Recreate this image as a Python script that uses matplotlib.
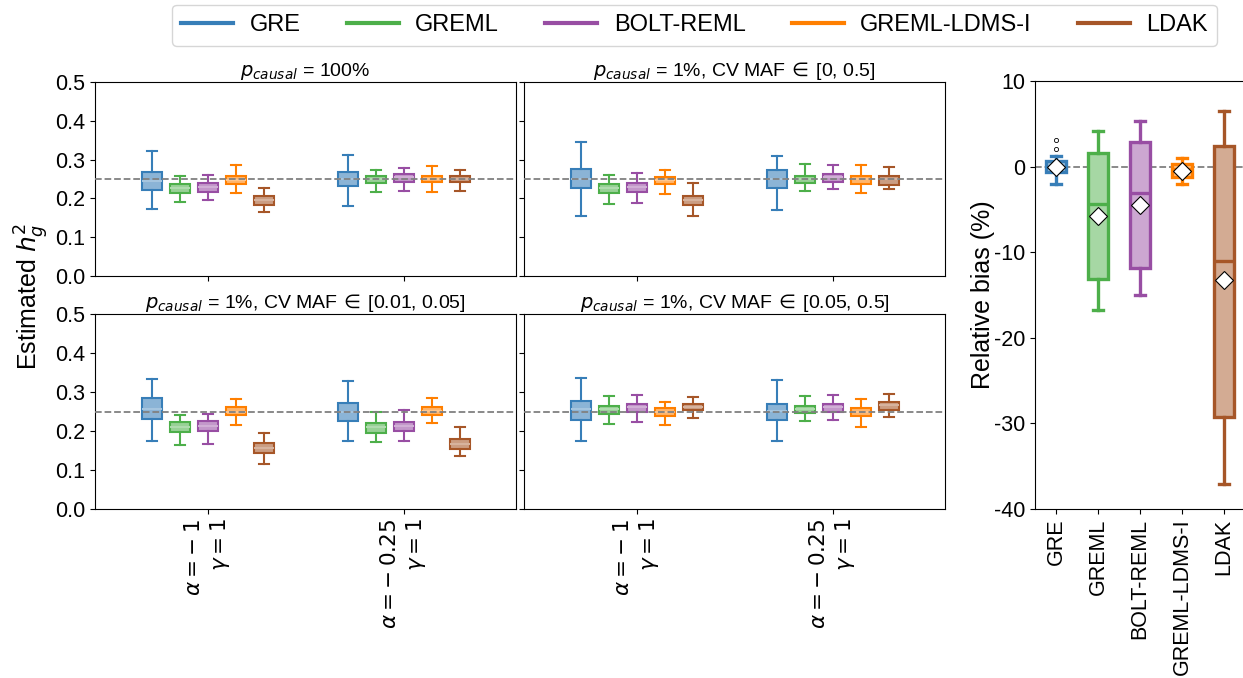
import matplotlib.pyplot as plt
from matplotlib.lines import Line2D
from matplotlib.colors import to_rgb

plt.rcParams['font.family'] = ['Liberation Sans', 'DejaVu Sans']
plt.rcParams['axes.unicode_minus'] = False

OUT_PNG = "out.png"

METHODS = ["GRE", "GREML", "BOLT-REML", "GREML-LDMS-I", "LDAK"]
COLORS = ["#377eb8", "#4daf4a", "#984ea3", "#ff7f00", "#a65628"]
GROUP_LABELS = [r"$\alpha=-\:1$" "\n" r"$\gamma=1$",
                r"$\alpha=-\:0.25$" "\n" r"$\gamma=1$"]
TRUE_H2 = 0.25

TITLES = [r"$p_{causal}$ = 100%",
          r"$p_{causal}$ = 1%, CV MAF$\,\in\,$[0, 0.5]",
          r"$p_{causal}$ = 1%, CV MAF$\,\in\,$[0.01, 0.05]",
          r"$p_{causal}$ = 1%, CV MAF$\,\in\,$[0.05, 0.5]"]

# (whislo, q1, median, q3, whishi) -> [group alpha=-1, group alpha=-0.25][method]
stats_p100 = [
    [(0.172, 0.221, 0.245, 0.268, 0.322), (0.191, 0.213, 0.227, 0.236, 0.258),
     (0.195, 0.217, 0.230, 0.240, 0.261), (0.214, 0.237, 0.247, 0.258, 0.286),
     (0.165, 0.184, 0.195, 0.207, 0.226)],
    [(0.180, 0.233, 0.251, 0.268, 0.312), (0.217, 0.240, 0.250, 0.257, 0.274),
     (0.220, 0.243, 0.254, 0.262, 0.278), (0.216, 0.241, 0.251, 0.259, 0.283),
     (0.220, 0.242, 0.251, 0.259, 0.274)],
]
stats_all_maf = [
    [(0.154, 0.226, 0.251, 0.276, 0.346), (0.185, 0.214, 0.226, 0.237, 0.261),
     (0.187, 0.216, 0.229, 0.240, 0.265), (0.212, 0.237, 0.247, 0.256, 0.272),
     (0.155, 0.184, 0.195, 0.207, 0.240)],
    [(0.171, 0.227, 0.251, 0.274, 0.310), (0.220, 0.239, 0.251, 0.258, 0.288),
     (0.223, 0.242, 0.254, 0.262, 0.285), (0.214, 0.237, 0.250, 0.258, 0.286),
     (0.223, 0.234, 0.250, 0.259, 0.280)],
]
stats_rare_maf = [
    [(0.174, 0.232, 0.256, 0.284, 0.334), (0.164, 0.197, 0.211, 0.223, 0.240),
     (0.167, 0.200, 0.214, 0.226, 0.244), (0.215, 0.240, 0.250, 0.261, 0.281),
     (0.115, 0.144, 0.156, 0.168, 0.196)],
    [(0.175, 0.226, 0.249, 0.272, 0.327), (0.171, 0.196, 0.210, 0.221, 0.250),
     (0.174, 0.199, 0.212, 0.224, 0.254), (0.220, 0.240, 0.251, 0.261, 0.284),
     (0.136, 0.154, 0.167, 0.179, 0.209)],
]
stats_common_maf = [
    [(0.174, 0.228, 0.256, 0.277, 0.337), (0.219, 0.244, 0.256, 0.265, 0.290),
     (0.222, 0.248, 0.261, 0.268, 0.293), (0.215, 0.238, 0.248, 0.258, 0.274),
     (0.233, 0.253, 0.262, 0.270, 0.287)],
    [(0.175, 0.228, 0.251, 0.270, 0.332), (0.226, 0.246, 0.256, 0.265, 0.289),
     (0.229, 0.250, 0.261, 0.268, 0.292), (0.210, 0.238, 0.250, 0.260, 0.282),
     (0.237, 0.254, 0.266, 0.274, 0.296)],
]
PANEL_STATS = [stats_p100, stats_all_maf, stats_rare_maf, stats_common_maf]

# relative bias (%) per method
bias_whislo = [-2.0, -16.7, -15.0, -2.0, -37.1]
bias_q1 = [-0.65, -13.1, -11.9, -1.24, -29.3]
bias_med = [0.0, -4.4, -3.1, -0.3, -11.0]
bias_q3 = [0.67, 1.56, 2.9, 0.28, 2.42]
bias_whishi = [1.25, 4.2, 5.35, 0.98, 6.55]
bias_mean = [0.0, -5.8, -4.5, -0.5, -13.2]
bias_fliers = [[2.0, 3.1], [], [], [], []]


def lighten(c, f):
    r, g, b = to_rgb(c)
    return (r + (1 - r) * f, g + (1 - g) * f, b + (1 - b) * f)


fig = plt.figure(figsize=(12.43, 6.78), dpi=100)
W, H = 1243.0, 678.0
TICK_FS = 15.5

# axes rectangles in pixels: (left, top, right, bottom)
rects = [(95, 82, 516, 276), (524, 82, 945, 276),
         (95, 314, 516, 509), (524, 314, 945, 509)]
OFFSET = 0.143
BOXW = 0.105

for i, (l, t, r, b) in enumerate(rects):
    ax = fig.add_axes([l / W, 1 - b / H, (r - l) / W, (b - t) / H])
    st = PANEL_STATS[i]
    for m, col in enumerate(COLORS):
        bstats = []
        for g in range(2):
            lo, q1, med, q3, hi = st[g][m]
            bstats.append(dict(whislo=lo, q1=q1, med=med, q3=q3, whishi=hi, fliers=[]))
        pos = [g + (m - 2) * OFFSET for g in range(2)]
        ax.bxp(bstats, positions=pos, widths=BOXW, patch_artist=True,
               showfliers=False, manage_ticks=False,
               boxprops=dict(facecolor=lighten(col, 0.42), edgecolor=col, linewidth=1.5),
               medianprops=dict(color=lighten(col, 0.55), linewidth=1.5),
               whiskerprops=dict(color=col, linewidth=1.5),
               capprops=dict(color=col, linewidth=1.5))
    ax.axhline(TRUE_H2, color="gray", ls="--", lw=1.3, zorder=5)
    ax.set_xlim(-0.577, 1.571)
    ax.set_ylim(0, 0.5)
    ax.set_yticks([0.0, 0.1, 0.2, 0.3, 0.4, 0.5])
    ax.set_xticks([0, 1])
    ax.set_title(TITLES[i], fontsize=14, pad=3)
    ax.tick_params(labelsize=TICK_FS)
    if i % 2 == 0:
        ax.set_yticklabels(["0.0", "0.1", "0.2", "0.3", "0.4", "0.5"])
    else:
        ax.set_yticklabels([])
    if i >= 2:
        ax.set_xticklabels(GROUP_LABELS, rotation=90, fontsize=TICK_FS,
                           multialignment="right")
    else:
        ax.set_xticklabels([])

fig.text(32 / W, 1 - 296 / H, r"Estimated $h_g^2$", rotation=90,
         ha="center", va="center", fontsize=18)

# relative bias panel
axr = fig.add_axes([1035 / W, 1 - 509 / H, 210 / W, 428 / H])
for m, col in enumerate(COLORS):
    s = dict(whislo=bias_whislo[m], q1=bias_q1[m], med=bias_med[m], q3=bias_q3[m],
             whishi=bias_whishi[m], mean=bias_mean[m], fliers=bias_fliers[m])
    axr.bxp([s], positions=[m], widths=0.48, patch_artist=True,
            showmeans=True, showfliers=True, manage_ticks=False,
            boxprops=dict(facecolor=lighten(col, 0.5), edgecolor=col, linewidth=2.4),
            medianprops=dict(color=col, linewidth=2.4),
            whiskerprops=dict(color=col, linewidth=2.4),
            capprops=dict(color=col, linewidth=2.4),
            meanprops=dict(marker="D", markerfacecolor="white",
                           markeredgecolor="black", markersize=9, markeredgewidth=0.8),
            flierprops=dict(marker="o", markersize=3, markerfacecolor="none",
                            markeredgecolor="black", markeredgewidth=0.6))
axr.axhline(0, color="gray", ls="--", lw=1.3, zorder=0)
axr.set_xlim(-0.5, 4.5)
axr.set_ylim(-40, 10)
axr.set_yticks([-40, -30, -20, -10, 0, 10])
axr.set_xticks(range(len(METHODS)))
axr.set_xticklabels(METHODS, rotation=90, fontsize=TICK_FS)
axr.tick_params(labelsize=TICK_FS)
fig.text(983 / W, 1 - 295 / H, "Relative bias (%)", rotation=90,
         ha="center", va="center", fontsize=18)

handles = [Line2D([0], [0], color=c, lw=3) for c in COLORS]
fig.legend(handles, METHODS, loc="upper center", bbox_to_anchor=(694.5 / W, 1.0),
           ncol=5, fontsize=17, handlelength=2.2, handletextpad=0.7,
           columnspacing=1.95, borderaxespad=0.2)

fig.savefig(OUT_PNG, dpi=100)
